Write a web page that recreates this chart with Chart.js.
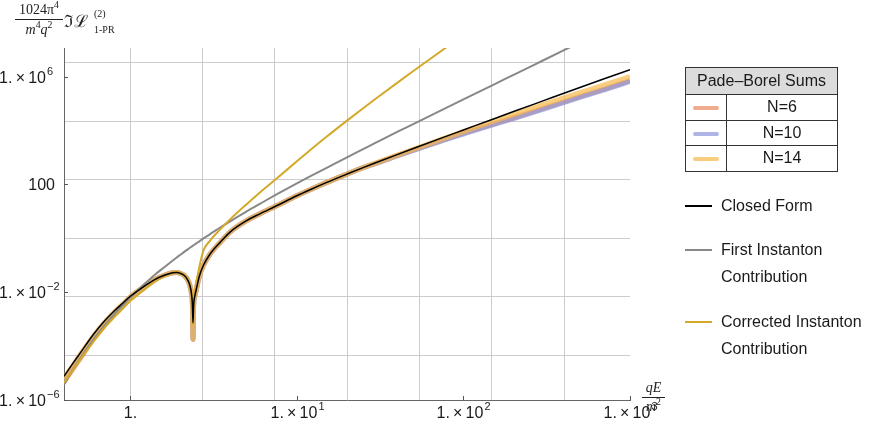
<!DOCTYPE html>
<html>
<head>
<meta charset="utf-8">
<script src="https://cdn.jsdelivr.net/npm/chart.js@4.4.0/dist/chart.umd.min.js"></script>
<style>
  body { margin: 0; background: #fff; }
  #wrap { position: relative; width: 884px; height: 428px; font-family: 'Liberation Sans', Arial, sans-serif; color: #1a1a1a; }
  #chart { position: absolute; left: 0; top: 0; }
  .math { position: absolute; font-family: 'Liberation Serif', 'DejaVu Serif', serif; white-space: nowrap; line-height: 1; color: #222; }
  .math sup, .math sub { font-size: 70%; line-height: 0; }
  #padeTable { position: absolute; left: 685px; top: 67px; border-collapse: collapse; font-size: 16px; }
  #padeTable th, #padeTable td { border: 1.5px solid #333; padding: 0; text-align: center; }
  #padeTable th { background: #dcdcdc; font-weight: normal; height: 26px; }
  #padeTable td { height: 24.5px; }
  #padeTable td.swc { width: 40px; }
  #padeTable td.lab { width: 110px; }
  .sw { display: inline-block; width: 26px; height: 4px; border-radius: 2px; vertical-align: middle; }
  .item { position: absolute; left: 721px; font-size: 16px; line-height: 27px; white-space: nowrap; }
  .line { position: absolute; left: 685px; width: 27px; }
</style>
</head>
<body>
<div id="wrap">
  <canvas id="chart" width="884" height="428"></canvas>

  <div class="math" style="left:15px; top:3px; width:48px; text-align:center; font-size:14px;">1024π<sup>4</sup></div>
  <div style="position:absolute; left:15px; top:19px; width:48px; height:1px; background:#222;"></div>
  <div class="math" style="left:15px; top:23px; width:48px; text-align:center; font-size:14px;"><i>m</i><sup>4</sup><i>q</i><sup>2</sup></div>
  <div class="math" style="left:64px; top:13px; font-size:17px;">ℑℒ</div>
  <div class="math" style="left:94px; top:9px; font-size:10px;">(2)</div>
  <div class="math" style="left:94px; top:25px; font-size:10px;">1-PR</div>

  <div class="math" style="left:642px; top:381px; width:23px; text-align:center; font-size:14px;"><i>qE</i></div>
  <div style="position:absolute; left:642px; top:397px; width:23px; height:1px; background:#222;"></div>
  <div class="math" style="left:642px; top:400px; width:23px; text-align:center; font-size:14px;"><i>m</i><sup>2</sup></div>

  <table id="padeTable"><tbody id="padeBody"></tbody></table>
  <div id="lineLegend"></div>
</div>
<script>
// x = qE/m^2 sample points
const xValues = [0.4, 0.45, 0.5, 0.6, 0.7, 0.8, 0.9, 1.0, 1.2, 1.4, 1.6, 1.8, 1.9, 2.0, 2.1, 2.2, 2.28, 2.33, 2.36, 2.38,
                 2.40, 2.45, 2.5, 2.6, 2.75, 3.0, 3.5, 4.0, 5.0, 6.0, 7.5, 10, 12, 15, 20, 25, 30, 40, 50, 75, 100, 150, 200, 300, 500, 700, 1000];

const closedForm = [7.6e-6, 2.19e-5, 5.5e-5, 2.7e-4, 8.5e-4, 2.0e-3, 3.9e-3, 7.1e-3, 1.58e-2, 2.95e-2, 4.27e-2, 5.25e-2, 5.37e-2, 5.0e-2, 4.27e-2, 3.02e-2, 1.78e-2, 8.9e-3, 3.55e-3, 7.4e-4,
                    3.16e-3, 7.9e-3, 1.41e-2, 3.98e-2, 0.1, 0.251, 0.759, 1.78, 4.57, 8.13, 15.8, 38.0, 63.8, 117, 243, 420, 650, 1280, 2150, 5460, 1.05e4, 2.64e4, 5.07e4, 1.26e5, 3.96e5, 8.36e5, 1.83e6];

const firstInstanton = [3.7e-6, 1.26e-5, 3.47e-5, 1.7e-4, 5.75e-4, 1.51e-3, 3.3e-3, 6.5e-3, 1.86e-2, 4.37e-2, 8.5e-2, 0.151, 0.195, 0.245, 0.309, 0.380, 0.447, 0.490, 0.519, 0.537,
                        0.562, 0.603, 0.661, 0.776, 1.0, 1.41, 2.63, 4.37, 10.0, 19.1, 41.7, 110, 200, 407, 1020, 2040, 3630, 8910, 1.74e4, 6.03e4, 1.45e5, 4.9e5, 1.17e6, 3.98e6, 1.86e7, null, null];

const correctedInstanton = [4.4e-6, 1.23e-5, 3.16e-5, 1.45e-4, 4.8e-4, 1.17e-3, 2.45e-3, 4.7e-3, 1.17e-2, 2.4e-2, 3.98e-2, 5.37e-2, 5.62e-2, 5.25e-2, 4.47e-2, 3.16e-2, 1.86e-2, 9.3e-3, 3.7e-3, 6.3e-4,
                            3.55e-3, 1.12e-2, 2.51e-2, 8.9e-2, 0.355, 0.794, 2.29, 5.25, 18.6, 50.1, 158, 724, 1860, 5750, 2.34e4, 6.76e4, 1.58e5, 5.9e5, 1.62e6, 9.8e6, 3.47e7, null, null, null, null, null, null];

const padeN6 = [4.7e-6, 1.35e-5, 3.47e-5, 1.78e-4, 5.9e-4, 1.48e-3, 3.16e-3, 6.2e-3, 1.45e-2, 2.95e-2, 4.27e-2, 5.25e-2, 5.37e-2, 5.0e-2, 4.27e-2, 3.02e-2, 1.78e-2, 8.9e-3, 3.55e-3, 1.78e-4,
                3.16e-3, 7.9e-3, 1.41e-2, 3.98e-2, 0.1, 0.251, 0.759, 1.78, 4.57, 8.13, 15.8, 38.0, 63.8, 117, 243, 420, 621, 1170, 1890, 4440, 7980, 1.75e4, 2.99e4, 6.62e4, 1.81e5, 3.48e5, 7.13e5];

const padeN10 = [5.25e-6, 1.55e-5, 3.98e-5, 2.0e-4, 6.6e-4, 1.62e-3, 3.39e-3, 6.5e-3, 1.51e-2, 2.95e-2, 4.27e-2, 5.25e-2, 5.37e-2, 5.0e-2, 4.27e-2, 3.02e-2, 1.78e-2, 8.9e-3, 3.55e-3, 1.78e-4,
                 3.16e-3, 7.9e-3, 1.41e-2, 3.98e-2, 0.1, 0.251, 0.759, 1.78, 4.57, 8.13, 15.8, 38.0, 63.8, 117, 243, 420, 607, 1140, 1830, 4240, 7450, 1.63e4, 2.79e4, 6.18e4, 1.69e5, 3.25e5, 6.65e5];

const padeN14 = [6.3e-6, 1.86e-5, 4.8e-5, 2.34e-4, 7.6e-4, 1.82e-3, 3.63e-3, 6.8e-3, 1.58e-2, 2.95e-2, 4.27e-2, 5.25e-2, 5.37e-2, 5.0e-2, 4.27e-2, 3.02e-2, 1.78e-2, 8.9e-3, 3.55e-3, 1.78e-4,
                 3.16e-3, 7.9e-3, 1.41e-2, 3.98e-2, 0.1, 0.251, 0.759, 1.78, 4.57, 8.13, 15.8, 38.0, 63.8, 117, 243, 420, 635, 1220, 2000, 4920, 9160, 2.17e4, 3.94e4, 9.14e4, 2.56e5, 4.92e5, 1.01e6];

// labelled ticks: mantissa text and exponent
const xTickValues = [1, 10, 100, 1000];
const xTickBase = ['1.', '1.\u2009×\u200910', '1.\u2009×\u200910', '1.\u2009×\u200910'];
const xTickExp = ['', '1', '2', '3'];
const yTickValues = [1e-6, 1e-2, 1e2, 1e6];
const yTickBase = ['1.\u2009×\u200910', '1.\u2009×\u200910', '100', '1.\u2009×\u200910'];
const yTickExp = ['\u22126', '\u22122', '', '6'];

// grid lines sit at powers of e
const xGridValues = [1, 2.718, 7.389, 20.09, 54.6, 148.4, 403.4];
const yGridValues = [4.54e-5, 6.74e-3, 1, 148.4, 2.203e4, 3.269e6];

const padeNames = ['N=6', 'N=10', 'N=14'];
const padeColors = ['rgba(232,135,92,0.7)', 'rgba(140,150,216,0.7)', 'rgba(245,184,72,0.7)'];
const lineNames = [['Closed Form'], ['First Instanton', 'Contribution'], ['Corrected Instanton', 'Contribution']];
const lineColors = ['#000000', '#888888', '#d4a92a'];

function series(label, ys, color, width, order) {
    return {
        label: label,
        data: xValues.map((x, i) => ({ x: x, y: ys[i] })),
        borderColor: color,
        borderWidth: width,
        pointRadius: 0,
        fill: false,
        cubicInterpolationMode: 'monotone',
        order: order
    };
}

const isNear = (list, v) => list.some(g => Math.abs(g - v) / g < 1e-3);

function mergeTicks(a, b) {
    const all = a.concat(b).sort((p, q) => p - q);
    return all.filter((v, i) => i === 0 || Math.abs(v - all[i - 1]) / v > 1e-3);
}

const baseFont = "16px 'Liberation Sans', Arial, sans-serif";
const expFont = "11px 'Liberation Sans', Arial, sans-serif";

// draws "1. x 10^n" with a raised exponent.
// align 'center': whole label centred on x; 'right': the mantissa part ends at x
function drawPower(ctx, base, exp, x, y, align) {
    ctx.font = baseFont;
    const wb = ctx.measureText(base).width;
    ctx.font = expFont;
    const we = exp ? ctx.measureText(exp).width + 1 : 0;
    const left = align === 'center' ? x - (wb + we) / 2 : x - wb;
    ctx.textAlign = 'left';
    ctx.textBaseline = 'middle';
    ctx.font = baseFont;
    ctx.fillText(base, left, y);
    if (exp) {
        ctx.font = expFont;
        ctx.fillText(exp, left + wb + 1, y - 7);
    }
}

// tick labels and small tick marks pointing into the plot
const axisDecor = {
    id: 'axisDecor',
    afterDraw(chart) {
        const { ctx, chartArea: a, scales } = chart;
        ctx.save();
        ctx.strokeStyle = '#555';
        ctx.lineWidth = 1;
        ctx.fillStyle = '#1a1a1a';
        xTickValues.forEach((v, i) => {
            const px = Math.round(scales.x.getPixelForValue(v)) + 0.5;
            ctx.beginPath();
            ctx.moveTo(px, a.bottom);
            ctx.lineTo(px, a.bottom - 4);
            ctx.stroke();
            drawPower(ctx, xTickBase[i], xTickExp[i], px, a.bottom + 14, 'center');
        });
        yTickValues.forEach((v, i) => {
            const py = Math.round(scales.y.getPixelForValue(v)) + 0.5;
            ctx.beginPath();
            ctx.moveTo(a.left, py);
            ctx.lineTo(a.left + 4, py);
            ctx.stroke();
            drawPower(ctx, yTickBase[i], yTickExp[i], a.left - (yTickExp[i] ? 18 : 9), py + 1, 'right');
        });
        ctx.restore();
    }
};

new Chart(document.getElementById('chart'), {
    type: 'line',
    data: {
        datasets: [
            series('Closed Form', closedForm, lineColors[0], 1.5, 0),
            series('Corrected Instanton Contribution', correctedInstanton, lineColors[2], 2, 1),
            series('First Instanton Contribution', firstInstanton, lineColors[1], 2, 2),
            series('N=14', padeN14, padeColors[2], 5, 3),
            series('N=10', padeN10, padeColors[1], 5, 4),
            series('N=6', padeN6, padeColors[0], 5, 5)
        ]
    },
    options: {
        responsive: false,
        animation: false,
        events: [],
        layout: { padding: { top: 48, right: 254, left: 0, bottom: 0 } },
        plugins: { legend: { display: false }, tooltip: { enabled: false } },
        scales: {
            x: {
                type: 'logarithmic',
                min: 0.4,
                max: 1000,
                afterBuildTicks: axis => { axis.ticks = mergeTicks(xTickValues, xGridValues).map(v => ({ value: v })); },
                afterFit: axis => { axis.height = 28; },
                ticks: { display: false, autoSkip: false },
                grid: {
                    drawTicks: false,
                    color: c => (c.tick && isNear(xGridValues, c.tick.value)) ? '#cccccc' : 'rgba(0,0,0,0)'
                },
                border: { display: true, color: '#666', width: 1 }
            },
            y: {
                type: 'logarithmic',
                min: 1e-6,
                max: 1.16e7,
                afterBuildTicks: axis => { axis.ticks = mergeTicks(yTickValues, yGridValues).map(v => ({ value: v })); },
                afterFit: axis => { axis.width = 64; },
                ticks: { display: false, autoSkip: false },
                grid: {
                    drawTicks: false,
                    color: c => (c.tick && isNear(yGridValues, c.tick.value)) ? '#cccccc' : 'rgba(0,0,0,0)'
                },
                border: { display: true, color: '#666', width: 1 }
            }
        }
    },
    plugins: [axisDecor]
});

// legend: Pade-Borel table
const body = document.getElementById('padeBody');
body.innerHTML = '<tr><th colspan="2">Pade–Borel Sums</th></tr>' +
    padeNames.map((n, i) => '<tr><td class="swc"><span class="sw" style="background:' + padeColors[i] + '"></span></td><td class="lab">' + n + '</td></tr>').join('');

// legend: single lines
const lineTops = [192, 236, 308];
const lineLegend = document.getElementById('lineLegend');
lineNames.forEach((rows, i) => {
    const sw = document.createElement('div');
    sw.className = 'line';
    sw.style.top = (lineTops[i] + 12.5) + 'px';
    sw.style.height = '2px';
    sw.style.background = lineColors[i];
    lineLegend.appendChild(sw);
    const t = document.createElement('div');
    t.className = 'item';
    t.style.top = lineTops[i] + 'px';
    t.innerHTML = rows.join('<br>');
    lineLegend.appendChild(t);
});
</script>
</body>
</html>
